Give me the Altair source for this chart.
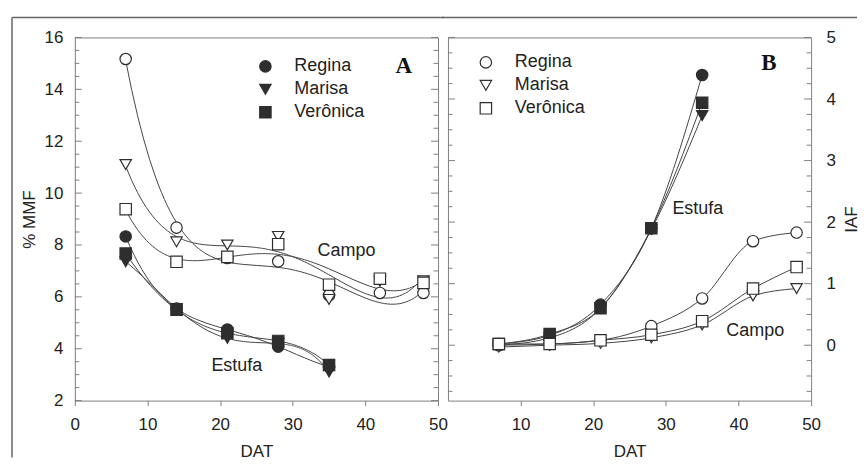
import altair as alt
import pandas as pd

VARIETIES = ["Regina", "Marisa", "Verônica"]
SHAPES = ["circle", "triangle-down", "square"]

DAT_CAMPO = [7, 14, 21, 28, 35, 42, 48]
DAT_ESTUFA = [7, 14, 21, 28, 35]

# Panel A: % MMF
MMF_CAMPO_REGINA = [15.17, 8.67, 7.5, 7.37, 6.06, 6.15, 6.15]
MMF_CAMPO_MARISA = [11.1, 8.12, 8.0, 8.33, 5.9, 6.6, 6.62]
MMF_CAMPO_VERONICA = [9.38, 7.35, 7.54, 8.03, 6.47, 6.7, 6.54]
MMF_ESTUFA_REGINA = [8.33, 5.55, 4.74, 4.08, 3.31]
MMF_ESTUFA_MARISA = [7.35, 5.55, 4.4, 4.2, 3.1]
MMF_ESTUFA_VERONICA = [7.67, 5.5, 4.6, 4.3, 3.37]

# Panel B: IAF
IAF_CAMPO_REGINA = [0.0, 0.02, 0.08, 0.31, 0.76, 1.69, 1.83]
IAF_CAMPO_MARISA = [-0.03, 0.0, 0.03, 0.12, 0.33, 0.8, 0.92]
IAF_CAMPO_VERONICA = [0.02, 0.02, 0.08, 0.17, 0.39, 0.92, 1.27]
IAF_ESTUFA_REGINA = [0.02, 0.16, 0.66, 1.9, 4.39]
IAF_ESTUFA_MARISA = [0.0, 0.12, 0.6, 1.88, 3.73]
IAF_ESTUFA_VERONICA = [0.02, 0.18, 0.6, 1.9, 3.94]

A_YTICKS = [2, 4, 6, 8, 10, 12, 14, 16]
B_YTICKS = [0, 1, 2, 3, 4, 5]
A_XTICKS = [0, 10, 20, 30, 40, 50]
B_XTICKS = [10, 20, 30, 40, 50]
A_MINOR = [2 + 0.5 * i for i in range(29)]
B_MINOR = [-0.75 + 0.25 * i for i in range(24)]

A_NOTES = pd.DataFrame({"label": ["Campo", "Estufa"], "dat": [37.4, 22.3], "val": [7.77, 3.35]})
B_NOTES = pd.DataFrame({"label": ["Estufa", "Campo"], "dat": [34.4, 42.3], "val": [2.21, 0.23]})
A_LETTER = pd.DataFrame({"label": ["A"], "dat": [45.3], "val": [14.88]})
B_LETTER = pd.DataFrame({"label": ["B"], "dat": [44.2], "val": [4.58]})


def long(dat, series, env):
    rows = []
    for v, vals in zip(VARIETIES, series):
        for d, y in zip(dat, vals):
            rows.append({"dat": d, "val": y, "var": v, "env": env})
    return pd.DataFrame(rows)


a_campo = long(DAT_CAMPO, [MMF_CAMPO_REGINA, MMF_CAMPO_MARISA, MMF_CAMPO_VERONICA], "Campo")
a_estufa = long(DAT_ESTUFA, [MMF_ESTUFA_REGINA, MMF_ESTUFA_MARISA, MMF_ESTUFA_VERONICA], "Estufa")
b_campo = long(DAT_CAMPO, [IAF_CAMPO_REGINA, IAF_CAMPO_MARISA, IAF_CAMPO_VERONICA], "Campo")
b_estufa = long(DAT_ESTUFA, [IAF_ESTUFA_REGINA, IAF_ESTUFA_MARISA, IAF_ESTUFA_VERONICA], "Estufa")

INK = "#2e2e2e"
LINE = "#444444"
AXC = "#808080"
W = 364
H = 364
one = pd.DataFrame({"a": [0]})


def legend(x, y, filled):
    return alt.Legend(
        title=None, orient="none", legendX=x, legendY=y, padding=0,
        labelFont="Liberation Sans", labelFontSize=18, labelColor="#222222",
        symbolFillColor=INK if filled else "white", symbolStrokeColor=INK,
        symbolStrokeWidth=1.2, symbolSize=130, symbolOpacity=1,
        labelOffset=20, rowPadding=5,
    )


def tick_layers(values, major_fn, Y):
    df = pd.DataFrame({"val": values})
    df["major"] = [major_fn(v) for v in values]
    layers = []
    for major, ln in [(True, 7), (False, 4.5)]:
        sub = df[df["major"] == major]
        base = alt.Chart(sub).mark_rule(color=AXC, strokeWidth=1)
        layers.append(base.encode(y=Y, x=alt.value(0), x2=alt.value(ln)))
        layers.append(base.encode(y=Y, x=alt.value(W), x2=alt.value(W - ln)))
    return layers


def panel(campo, estufa, ydom, yaxis, xticks, minor, major_fn, leg_filled, leg_xy,
          notes, letter, is_a):
    xs = alt.Scale(domain=[0, 50], nice=False, zero=False)
    ys = alt.Scale(domain=ydom, nice=False, zero=False)
    xaxis = alt.Axis(title="DAT", values=xticks, domain=False, ticks=True, tickSize=5,
                     tickColor=AXC, labelPadding=11, grid=False, labelFlush=False,
                     titleX=W / 2, titleY=51, titleBaseline="middle", titleAlign="center")
    X = alt.X("dat:Q", scale=xs, axis=xaxis)
    Y = alt.Y("val:Q", scale=ys, axis=yaxis)
    sc = alt.Scale(domain=VARIETIES, range=SHAPES)
    leg = legend(leg_xy[0], leg_xy[1], leg_filled)

    layers = tick_layers(minor, major_fn, Y)

    frame = alt.Chart(one).mark_rule(color="#666666", strokeWidth=1.5)
    if is_a:
        layers.append(frame.encode(x=alt.value(-63), y=alt.value(-20), y2=alt.value(421)))
        layers.append(frame.encode(x=alt.value(-63), x2=alt.value(W + 6), y=alt.value(-20)))
    else:
        layers.append(frame.encode(x=alt.value(-6), x2=alt.value(W + 46), y=alt.value(-20)))

    if is_a:
        layers.append(alt.Chart(campo).transform_regression(
            "dat", "val", groupby=["var"], method="poly", order=4, extent=[7, 48]
        ).mark_line(color=LINE, strokeWidth=1).encode(x=X, y=Y, detail="var:N"))
        layers.append(alt.Chart(estufa).transform_regression(
            "dat", "val", groupby=["var"], method="poly", order=4, extent=[7, 35]
        ).mark_line(color=LINE, strokeWidth=1).encode(x=X, y=Y, detail="var:N"))
    else:
        for df in (campo, estufa):
            layers.append(alt.Chart(df).mark_line(color=LINE, strokeWidth=1, interpolate="monotone").encode(
                x=X, y=Y, detail="var:N", order="dat:Q"))

    pts = pd.concat([campo, estufa] if is_a else [estufa, campo], ignore_index=True)
    layers.append(alt.Chart(pts).mark_point(
        filled=True, stroke=INK, strokeWidth=1.2, opacity=1, size=130
    ).encode(
        x=X, y=Y,
        shape=alt.Shape("var:N", scale=sc, legend=leg),
        fill=alt.Fill("env:N", scale=alt.Scale(domain=["Estufa", "Campo"], range=[INK, "white"]),
                      legend=None),
    ))

    layers.append(alt.Chart(notes).mark_text(font="Liberation Sans", fontSize=18, color="#222222").encode(
        x=X, y=Y, text="label:N"))
    layers.append(alt.Chart(letter).mark_text(font="Liberation Serif", fontWeight="bold",
                                              fontSize=23, color="#111111").encode(
        x=X, y=Y, text="label:N"))
    return alt.layer(*layers).properties(width=W, height=H)


a_yaxis = alt.Axis(title="% MMF", values=A_YTICKS, ticks=False, domain=False, grid=False,
                   labelPadding=12, labelFlush=False, titleX=-45, titleY=H / 2, titleAngle=270,
                   titleBaseline="middle", titleAlign="center")
b_yaxis = alt.Axis(title="IAF", orient="right", values=B_YTICKS, ticks=False, domain=False,
                   grid=False, labelPadding=15, labelFlush=False, titleX=40, titleY=H / 2,
                   titleAngle=270, titleBaseline="middle", titleAlign="center")

A = panel(a_campo, a_estufa, [2, 16], a_yaxis, A_XTICKS, A_MINOR, lambda v: v % 2 == 0,
          True, (182, 20), A_NOTES, A_LETTER, True)
B = panel(b_campo, b_estufa, [-0.9, 5], b_yaxis, B_XTICKS, B_MINOR, lambda v: float(v).is_integer(),
          False, (29, 16), B_NOTES, B_LETTER, False)

chart = alt.hconcat(A, B, spacing=10, bounds="flush").resolve_scale(
    shape="independent", fill="independent").resolve_legend(shape="independent").properties(
    padding={"left": 2, "top": 7, "right": 0, "bottom": 0}
).configure_view(stroke=AXC, strokeWidth=1).configure_axis(
    labelFont="Liberation Sans", labelFontSize=17, labelColor="#222222",
    titleFont="Liberation Sans", titleFontSize=17, titleFontWeight="normal", titleColor="#222222",
)

chart.save("out.html", embed_options={"renderer": "svg", "actions": False})
